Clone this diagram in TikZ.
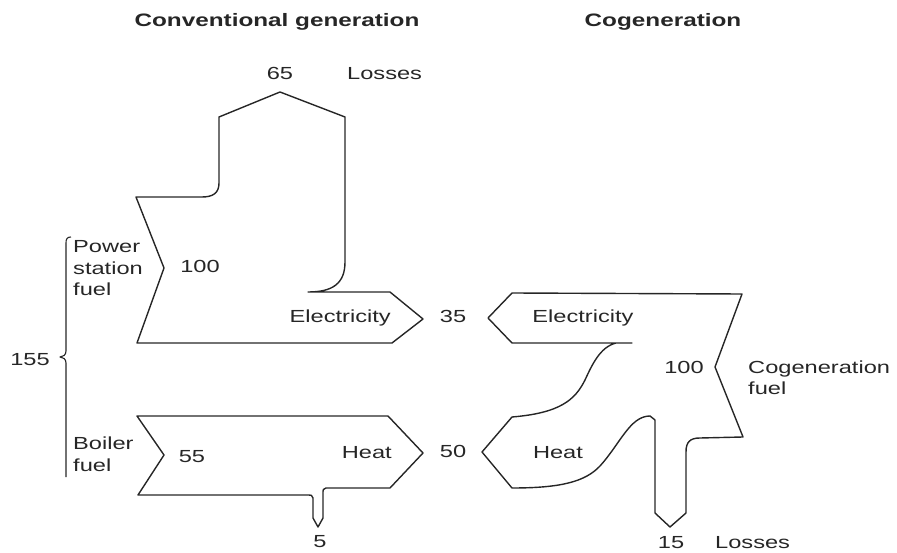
\documentclass[tikz,border=0pt]{standalone}
\usepackage{fontspec}
\setmainfont{Liberation Sans}[FakeStretch=1.35]
\begin{document}
\begin{tikzpicture}[x=1pt,y=-1pt,
  flow/.style={draw=black!85,line width=1.4pt,line join=round},
  lbl/.style={font=\fontsize{17.5}{21.5}\selectfont,text=black!85,inner sep=0pt},
  title/.style={lbl,font=\fontsize{18}{22}\selectfont\bfseries}]
  \useasboundingbox (0,0) rectangle (897,553);

  % headings
  \node[title,anchor=base] (convhead) at (277,27) {Conventional generation};
  \node[title,anchor=base] (cogenhead) at (663,27) {Cogeneration};

  % conventional: power station
  \draw[flow] (136,197) -- (164,268) -- (137,343) -- (392,343) -- (423,319)
    -- (390,292) -- (308,292) .. controls (332,292) and (345,284) .. (345,262)
    -- (345,117) -- (280,92) -- (219,117) -- (219,183)
    .. controls (219,193) and (213,197) .. (202,197) -- cycle;
  \node[lbl,anchor=base] (loss65) at (280,80) {65};
  \node[lbl,anchor=base west] (losstop) at (347,80) {Losses};
  \node[lbl,anchor=base] (fuel100) at (200,273) {100};
  \node[lbl,anchor=base east] (elecconv) at (391,323) {Electricity};
  \node[lbl,anchor=north west,align=left] (psfuel) at (73,240.5) {Power\\station\\fuel};

  % conventional: boiler
  \draw[flow] (137,416) -- (388,416) -- (423,453) -- (390,488) -- (326,488)
    .. controls (323,488) and (323,490) .. (323,494) -- (323,518) -- (318,527)
    -- (313,518) -- (313,498) .. controls (313,495) and (311,495) .. (306,495)
    -- (138,495) -- (164,455) -- cycle;
  \node[lbl,anchor=base] (fuel55) at (192,462) {55};
  \node[lbl,anchor=base east] (heatconv) at (392,458) {Heat};
  \node[lbl,anchor=base] (loss5) at (320,547) {5};
  \node[lbl,anchor=north west,align=left] (bfuel) at (73,437) {Boiler\\fuel};

  % total fuel
  \draw[flow,line width=1.1pt] (71,237) .. controls (67,237) and (66,239) .. (66,243)
    -- (66,351) .. controls (66,355) and (63,357) .. (60,357)
    .. controls (63,357) and (66,359) .. (66,363) -- (66,477);
  \node[lbl,anchor=base] (total155) at (30,365) {155};

  % outputs between
  \node[lbl,anchor=base] (out35) at (453,323) {35};
  \node[lbl,anchor=base] (out50) at (453,457) {50};

  % cogeneration
  \draw[flow] (742,294) -- (512,293) -- (488,318) -- (512,343) -- (632,343) -- (616,343)
    .. controls (600,347) and (592,365) .. (585,380)
    .. controls (575,400) and (560,413) .. (512,417)
    -- (482,452) -- (512,488)
    .. controls (560,488) and (585,482) .. (600,466)
    .. controls (620,444) and (630,416) .. (650,416)
    -- (655,420) -- (655,513) -- (670,527) -- (686,513) -- (686,452)
    .. controls (686,442) and (690,438) .. (700,438) -- (743,437)
    -- (715,367) -- cycle;
  \node[lbl,anchor=base] (eleccog) at (583,323) {Electricity};
  \node[lbl,anchor=base] (heatcog) at (558,458) {Heat};
  \node[lbl,anchor=base] (fuel100cog) at (684,373) {100};
  \node[lbl,anchor=north west,align=left] (cogfuel) at (748,360.5) {Cogeneration\\fuel};
  \node[lbl,anchor=base] (loss15) at (671,548) {15};
  \node[lbl,anchor=base west] (lossbot) at (715,548) {Losses};
\end{tikzpicture}
\end{document}
